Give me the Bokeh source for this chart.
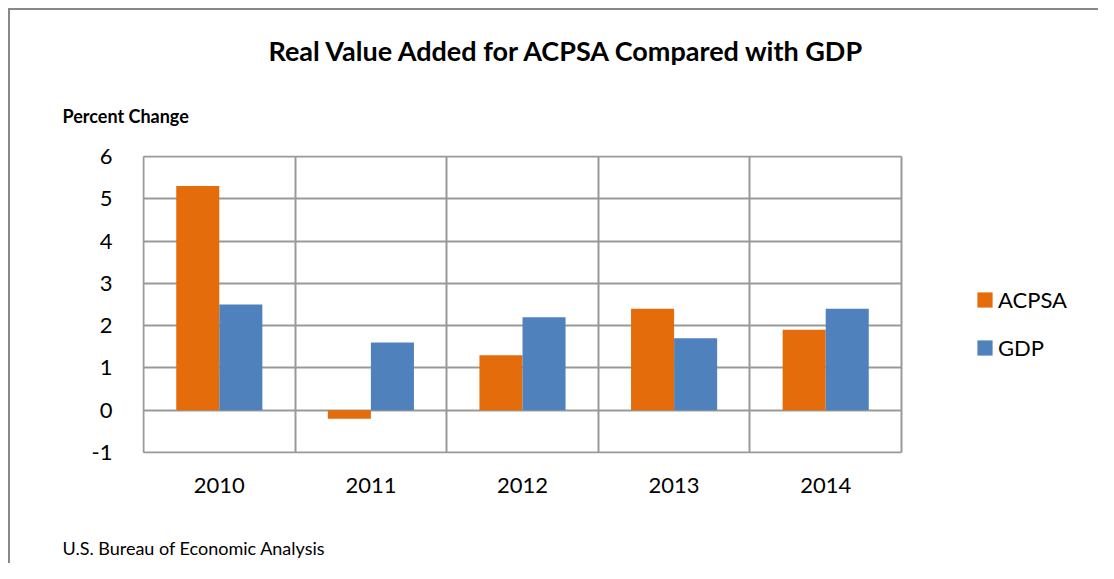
from bokeh.plotting import figure
from bokeh.models import (Range1d, FixedTicker, Title, Legend, LegendItem,
                          ColumnDataSource)
from bokeh.transform import dodge
from bokeh.embed import file_html
from bokeh.resources import INLINE

# ---- data ----
years = ["2010", "2011", "2012", "2013", "2014"]
acpsa = [5.3, -0.2, 1.3, 2.4, 1.9]
gdp = [2.5, 1.6, 2.2, 1.7, 2.4]
y_ticks = [-1, 0, 1, 2, 3, 4, 5, 6]
y_tick_labels = ["-1", "0", "1", "2", "3", "4", "5", "6"]

title_text = "Real Value Added for ACPSA Compared with GDP"
ylabel_text = "Percent Change"
source_text = "U.S. Bureau of Economic Analysis"

FONT = "Lato"
ORANGE = "#E46C0A"
BLUE = "#4F81BD"
GRID = "#999999"
BORDER = "#888888"

n = len(years)
xc = [i + 0.5 for i in range(n)]
src = ColumnDataSource(dict(x=xc, year=years, acpsa=acpsa, gdp=gdp))

# layout (pixels): plot area box of the original chart
W, H = 1098, 563
FL, FT, FR, FB = 143, 156, 901, 452
PAD = 1  # px of frame beyond the plot-area box so its edge lines are drawn
y0, y1 = y_ticks[0], y_ticks[-1]
ppu_y = (FB - FT) / (y1 - y0)
ppu_x = (FR - FL) / n

p = figure(width=W, height=H, output_backend="svg", toolbar_location=None,
           x_range=Range1d(-PAD / ppu_x, n + (W - FR) / ppu_x),
           y_range=Range1d(y0 - PAD / ppu_y, y1 + PAD / ppu_y),
           min_border_left=FL - PAD, min_border_top=FT - PAD,
           min_border_right=0, min_border_bottom=H - FB - PAD,
           background_fill_color="white", border_fill_alpha=0,
           outline_line_color=None,
           styles={"background-color": "white",
                   "background-image": f"linear-gradient({BORDER},{BORDER}), linear-gradient({BORDER},{BORDER})",
                   "background-size": "2px 100%, 100% 2px",
                   "background-position": "8px 8px, 8px 8px",
                   "background-repeat": "no-repeat"})

bw = 0.284
r1 = p.vbar(x=dodge("x", -bw / 2, range=p.x_range), top="acpsa", width=bw,
            source=src, fill_color=ORANGE, line_color=None)
r2 = p.vbar(x=dodge("x", bw / 2, range=p.x_range), top="gdp", width=bw,
            source=src, fill_color=BLUE, line_color=None)

# axes
p.xaxis.ticker = FixedTicker(ticks=xc)
p.xaxis.major_label_overrides = {x: y for x, y in zip(xc, years)}
p.yaxis.ticker = FixedTicker(ticks=y_ticks)
p.yaxis.major_label_overrides = {t: s for t, s in zip(y_ticks, y_tick_labels)}
for ax in (p.xaxis[0], p.yaxis[0]):
    ax.axis_line_color = None
    ax.major_tick_line_color = None
    ax.minor_tick_line_color = None
    ax.major_label_text_font = FONT
    ax.major_label_text_font_size = "22px"
    ax.major_label_text_color = "#000000"
p.xaxis.major_label_standoff = 18
p.yaxis.major_label_standoff = 24
# blank axis label only reserves room between the year labels and the source note
p.xaxis.axis_label = " "
p.xaxis.axis_label_text_font_size = "10px"
p.xaxis.axis_label_standoff = 23

# grid (also forms the plot-area box)
p.xgrid.ticker = FixedTicker(ticks=list(range(n + 1)))
p.xgrid.cross_bounds = (y0, y1)
p.ygrid.ticker = FixedTicker(ticks=y_ticks)
p.ygrid.cross_bounds = (0, n)
for g in (p.xgrid[0], p.ygrid[0]):
    g.grid_line_color = GRID
    g.grid_line_width = 2

# texts
p.add_layout(Title(text=ylabel_text, align="left", offset=-80,
                   text_font=FONT, text_font_size="18px", text_font_style="bold",
                   text_color="#000000", standoff=58), "above")
p.add_layout(Title(text=title_text, align="left", offset=126,
                   text_font=FONT, text_font_size="27px", text_font_style="bold",
                   text_color="#000000", standoff=13), "above")
p.add_layout(Title(text=source_text, align="left", offset=-80,
                   text_font=FONT, text_font_size="18px", text_font_style="normal",
                   text_color="#000000", standoff=4), "below")

legend = Legend(items=[LegendItem(label="ACPSA", renderers=[r1]),
                       LegendItem(label="GDP", renderers=[r2])],
                location=(832 + PAD, 91 + PAD), orientation="vertical",
                glyph_width=19, glyph_height=19, label_standoff=4,
                spacing=21, padding=0, margin=0,
                border_line_color=None, background_fill_alpha=0,
                label_text_font=FONT, label_text_font_size="22px",
                label_text_color="#000000")
p.add_layout(legend, "center")

open("out.html", "w").write(file_html(p, INLINE))
